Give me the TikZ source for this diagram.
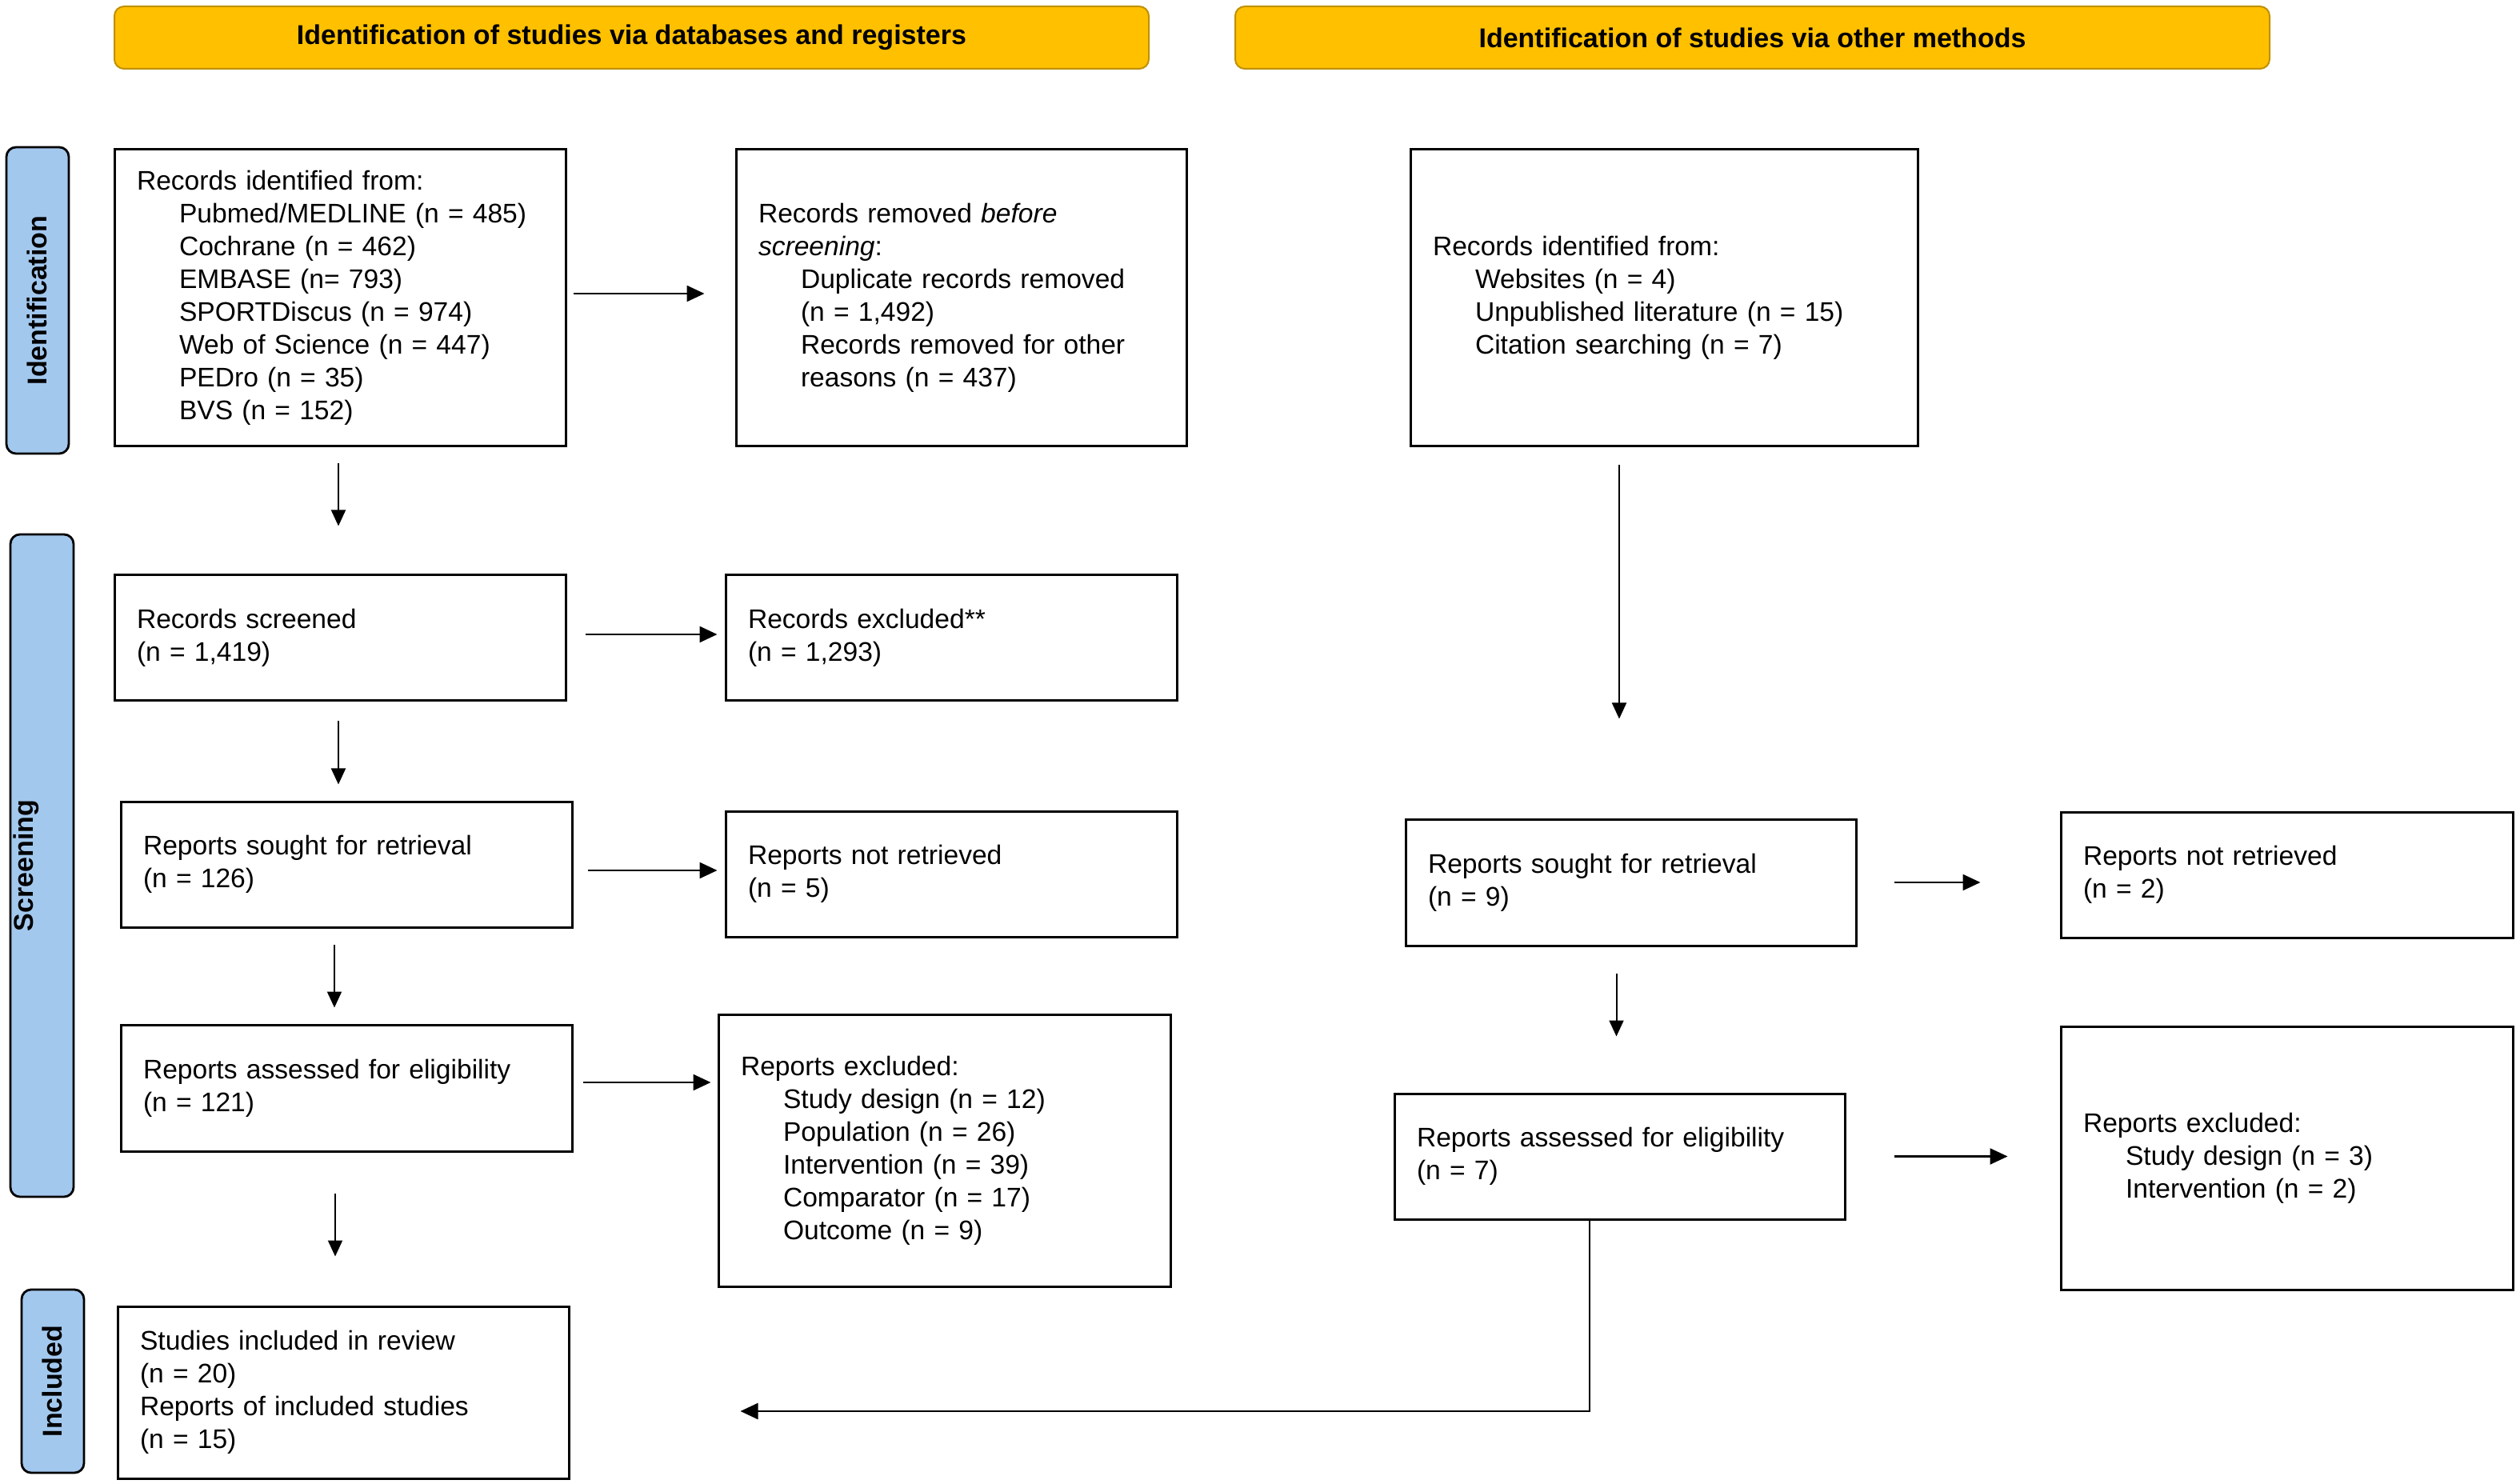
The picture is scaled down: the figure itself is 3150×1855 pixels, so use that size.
\documentclass[tikz,border=0pt]{standalone}
\usepackage{fontspec}
\setmainfont{Liberation Sans}
\usetikzlibrary{arrows.meta,calc}
\definecolor{hdrfill}{RGB}{255,192,0}
\definecolor{hdrdraw}{RGB}{191,144,0}
\definecolor{sidefill}{RGB}{163,200,238}
\newcommand{\prind}{\hspace*{26.5pt}}
\newcommand{\prbox}[6]{%
  \pgfmathsetmacro\prbw{(#4-#2)/2}%
  \pgfmathsetmacro\prbh{(#5-#3)/2}%
  \pgfmathsetmacro\prtw{\prbw-28}%
  \node[flowbox, minimum width=\prbw pt, minimum height=\prbh pt, text width=\prtw pt] (#1) at ({(#2+#4)/2},{(#3+#5)/2}) {#6};}
\begin{document}
\begin{tikzpicture}[x=0.5pt,y=-0.5pt,
  flowbox/.style={draw=black, line width=1.5pt, fill=white, inner xsep=14pt, inner ysep=0pt, align=left, font=\fontsize{16.8}{20.5}\selectfont},
  hdr/.style={draw=hdrdraw, line width=1pt, fill=hdrfill, rounded corners=6pt, inner sep=0pt, font=\bfseries\fontsize{17}{20.5}\selectfont},
  side/.style={draw=black, line width=1.4pt, fill=sidefill, rounded corners=6pt, inner sep=0pt},
  sidetext/.style={rotate=90, inner sep=0pt, font=\bfseries\fontsize{17}{20.5}\selectfont},
  arr/.style={line width=1pt, -{Triangle[length=10pt,width=9pt]}},
  harr/.style={line width=1.2pt, -{Triangle[length=11pt,width=10pt]}}]
\useasboundingbox (0,0) rectangle (3150,1855);

% headers
\node[hdr, minimum width=646.5pt, minimum height=39pt] (h1) at (789.5,47) {Identification of studies via databases and registers};
\node[hdr, minimum width=646.5pt, minimum height=39pt] (h2) at (2190.5,47) {Identification of studies via other methods};

% side labels
\node[side, minimum width=39pt, minimum height=191.5pt] (sI) at (47,375.5) {};
\node[sidetext] (sIt) at (46,375.5) {Identification};
\node[side, minimum width=39.5pt, minimum height=414pt] (sS) at (52.5,1082) {};
\node[sidetext] (sSt) at (33,1082) {Screening};
\node[side, minimum width=39pt, minimum height=114.5pt] (sN) at (66,1726.5) {};
\node[sidetext] (sNt) at (65,1726.5) {Included};

% boxes, databases column
\prbox{db}{143}{187}{707}{558}{Records identified from:\\ \prind Pubmed/MEDLINE (n = 485)\\ \prind Cochrane (n = 462)\\ \prind EMBASE (n= 793)\\ \prind SPORTDiscus (n = 974)\\ \prind Web of Science (n = 447)\\ \prind PEDro (n = 35)\\ \prind BVS (n = 152)}
\prbox{rem}{920}{187}{1483}{558}{Records removed \textit{before}\\ \textit{screening}:\\ \prind Duplicate records removed\\ \prind (n = 1,492)\\ \prind Records removed for other\\ \prind reasons (n = 437)}
\prbox{scr}{143}{719}{707}{876}{Records screened\\ (n = 1,419)}
\prbox{exc}{907}{719}{1471}{876}{Records excluded**\\ (n = 1,293)}
\prbox{sought}{151}{1002}{715}{1159}{Reports sought for retrieval\\ (n = 126)}
\prbox{notret}{907}{1014}{1471}{1171}{Reports not retrieved\\ (n = 5)}
\prbox{ass}{151}{1281}{715}{1439}{Reports assessed for eligibility\\ (n = 121)}
\prbox{repexc}{898}{1268}{1463}{1608}{Reports excluded:\\ \prind Study design (n = 12)\\ \prind Population (n = 26)\\ \prind Intervention (n = 39)\\ \prind Comparator (n = 17)\\ \prind Outcome (n = 9)}
\prbox{inc}{147}{1633}{711}{1848}{Studies included in review\\ (n = 20)\\ Reports of included studies\\ (n = 15)}

% boxes, other methods column
\prbox{oth}{1763}{187}{2397}{558}{Records identified from:\\ \prind Websites (n = 4)\\ \prind Unpublished literature (n = 15)\\ \prind Citation searching (n = 7)}
\prbox{osought}{1757}{1024}{2320}{1182}{Reports sought for retrieval\\ (n = 9)}
\prbox{onotret}{2576}{1015}{3141}{1172}{Reports not retrieved\\ (n = 2)}
\prbox{oass}{1743}{1367}{2306}{1524}{Reports assessed for eligibility\\ (n = 7)}
\prbox{orepexc}{2576}{1283}{3141}{1612}{Reports excluded:\\ \prind Study design (n = 3)\\ \prind Intervention (n = 2)}

% connectors, databases column
\draw[harr] ([xshift=4pt,yshift=2.75pt]db.east) -- ([xshift=-19pt,yshift=2.75pt]db.east -| rem.west);
\draw[arr] ([xshift=-1pt,yshift=-10pt]db.south) -- ([xshift=-1pt,yshift=30pt]db.south |- scr.north);
\draw[harr] ([xshift=11.5pt,yshift=2.25pt]scr.east) -- ([xshift=-4.5pt,yshift=2.25pt]scr.east -| exc.west);
\draw[arr] ([xshift=-1pt,yshift=-12pt]scr.south) -- ([xshift=-1pt,yshift=10pt]scr.south |- sought.north);
\draw[harr] ([xshift=9pt,yshift=-3.75pt]sought.east) -- ([xshift=-4.5pt,yshift=-3.75pt]sought.east -| notret.west);
\draw[arr] ([xshift=-7.5pt,yshift=-10pt]sought.south) -- ([xshift=-7.5pt,yshift=10pt]sought.south |- ass.north);
\draw[harr] ([xshift=6pt,yshift=3.5pt]ass.east) -- ([xshift=-4pt,yshift=3.5pt]ass.east -| repexc.west);
\draw[arr] ([xshift=-7pt,yshift=-25.5pt]ass.south) -- ([xshift=-7pt,yshift=30.5pt]ass.south |- inc.north);

% connectors, other methods column
\draw[arr] ([xshift=-28pt,yshift=-11pt]oth.south) -- ([xshift=-28pt,yshift=62pt]oth.south |- osought.north);
\draw[harr] ([xshift=23pt]osought.east) -- ([xshift=-49.5pt]osought.east -| onotret.west);
\draw[arr] ([xshift=-9pt,yshift=-16.5pt]osought.south) -- ([xshift=-9pt,yshift=35pt]osought.south |- oass.north);
\draw[harr] ([xshift=30pt]oass.east) -- ([xshift=-32.5pt]oass.east -| orepexc.west);
\draw[harr] ([xshift=-18.75pt]oass.south) |- ([xshift=106.5pt,yshift=-11.75pt]inc.east);
\end{tikzpicture}
\end{document}
